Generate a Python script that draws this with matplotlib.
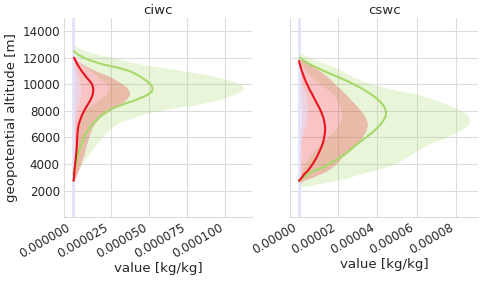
import numpy as np
import matplotlib
matplotlib.use("Agg")
import matplotlib.pyplot as plt

nan = np.nan

# altitude levels [m] for the cloud profiles, 2250 .. 13250 every 250 m
altitude = np.arange(2250, 13251, 250)
# the near-zero reference profile spans the whole column
altitude_full = [0, 15000]

# ---------------- ciwc  (values in 1e-6 kg/kg) ----------------
ciwc_red_med = [nan,
                nan, 0.6, 0.9, 1.05,
                1.2, 1.4, 1.6, 1.85,
                2.1, 2.3, 2.5, 2.7,
                2.8, 2.9, 3.0, 3.15,
                3.3, 3.6, 4.0, 4.7,
                5.5, 6.4, 7.5, 8.7,
                10.0, 11.3, 12.4, 13.1,
                13.5, 13.4, 12.7, 11.2,
                9.3, 7.6, 6.0, 4.5,
                3.2, 2.0, 0.9, nan,
                nan, nan, nan, nan]
ciwc_red_lo = [nan,
               0.0, 0.1, 0.2, 0.2,
               0.2, 0.2, 0.3, 0.3,
               0.3, 0.3, 0.3, 0.3,
               0.3, 0.3, 0.3, 0.3,
               0.4, 0.4, 0.4, 0.4,
               0.5, 0.5, 0.6, 0.6,
               0.6, 0.7, 0.7, 0.7,
               0.7, 0.7, 0.6, 0.6,
               0.5, 0.4, 0.3, 0.3,
               0.2, 0.1, 0.1, 0.0,
               nan, nan, nan, nan]
ciwc_red_hi = [nan,
               0.1, 1.3, 2.2, 2.9,
               3.7, 4.5, 5.3, 6.0,
               6.7, 7.4, 8.0, 8.6,
               9.2, 9.8, 10.5, 11.2,
               12.0, 12.8, 14.0, 15.8,
               18.0, 20.5, 24.0, 27.5,
               31.0, 34.0, 36.0, 37.3,
               37.0, 35.5, 33.0, 29.5,
               26.0, 21.0, 15.5, 11.0,
               7.0, 4.0, 2.0, 0.2,
               nan, nan, nan, nan]
ciwc_green_med = [nan,
                  nan, nan, nan, 0.5,
                  1.0, 1.6, 2.2, 2.7,
                  3.2, 3.7, 4.3, 5.0,
                  5.8, 6.6, 7.5, 8.5,
                  9.8, 11.3, 13.0, 14.8,
                  17.0, 19.8, 23.0, 27.5,
                  33.0, 39.5, 45.0, 49.5,
                  52.0, 52.3, 51.0, 48.5,
                  45.5, 42.0, 37.5, 30.0,
                  20.0, 13.0, 7.5, 3.5,
                  1.0, nan, nan, nan]
ciwc_green_lo = [nan,
                 nan, 0.0, 0.2, 0.35,
                 0.5, 0.65, 0.8, 1.0,
                 1.2, 1.4, 1.6, 1.8,
                 2.0, 2.2, 2.4, 2.7,
                 3.0, 3.4, 3.8, 4.3,
                 5.0, 6.2, 8.0, 10.0,
                 13.0, 16.0, 19.0, 21.8,
                 23.3, 23.5, 22.5, 20.0,
                 17.0, 14.5, 12.0, 9.0,
                 6.0, 4.5, 2.5, 1.0,
                 0.4, 0.1, 0.0, nan]
ciwc_green_hi = [nan,
                 nan, 0.3, 1.5, 2.6,
                 3.8, 5.0, 6.0, 7.5,
                 9.0, 10.8, 12.3, 14.0,
                 15.8, 17.5, 19.2, 21.0,
                 23.0, 25.5, 28.5, 33.0,
                 40.0, 46.0, 55.0, 68.0,
                 82.0, 92.0, 100.0, 106.0,
                 110.0, 112.0, 110.0, 105.0,
                 97.0, 87.0, 74.0, 60.0,
                 46.0, 36.0, 27.0, 17.0,
                 9.0, 4.0, 1.0, nan]
ciwc_blue_med = [0.0, 0.0]
ciwc_blue_hi = [0,
                0, 0, 0, 0,
                0, 0, 0, 0,
                0, 0, 0, 0,
                0, 0, 0.1, 0.3,
                0.5, 0.7, 0.8, 1.2,
                1.6, 2.1, 2.6, 3.1,
                3.6, 4.0, 4.5, 4.9,
                5.2, 5.2, 5.0, 4.5,
                4.0, 3.3, 2.5, 1.7,
                1.0, 0.4, 0, 0,
                0, 0, 0, 0]

# ---------------- cswc  (values in 1e-6 kg/kg) ----------------
cswc_red_med = [nan,
                nan, 0.3, 1.8, 3.0,
                4.8, 6.0, 7.2, 8.2,
                9.2, 10.0, 10.8, 11.5,
                12.2, 12.7, 13.0, 13.3,
                13.5, 13.5, 13.3, 13.0,
                12.6, 12.0, 11.3, 10.5,
                9.6, 8.7, 7.8, 7.0,
                6.0, 5.2, 4.4, 3.6,
                2.9, 2.3, 1.7, 1.2,
                0.7, 0.3, nan, nan,
                nan, nan, nan, nan]
cswc_red_lo = [nan,
               0.0, 0.1, 0.2, 0.2,
               0.3, 0.3, 0.3, 0.4,
               0.4, 0.5, 0.5, 0.6,
               0.7, 0.8, 0.9, 1.0,
               1.1, 1.2, 1.3, 1.4,
               1.5, 1.5, 1.5, 1.4,
               1.3, 1.2, 1.0, 0.9,
               0.8, 0.7, 0.6, 0.5,
               0.4, 0.3, 0.3, 0.2,
               0.1, 0.1, 0.0, nan,
               nan, nan, nan, nan]
cswc_red_hi = [nan,
               0.5, 2.5, 7.0, 11.0,
               14.5, 17.0, 19.0, 20.5,
               22.0, 24.0, 26.0, 28.0,
               29.7, 31.0, 32.2, 33.3,
               34.2, 34.8, 35.0, 34.7,
               34.0, 33.0, 31.8, 30.3,
               28.8, 27.2, 25.6, 24.0,
               22.3, 20.5, 18.7, 17.0,
               15.3, 13.3, 11.0, 8.5,
               6.0, 3.5, 1.2, nan,
               nan, nan, nan, nan]
cswc_green_med = [nan,
                  nan, 0.5, 2.5, 5.0,
                  8.0, 12.5, 15.5, 18.5,
                  21.0, 23.5, 25.8, 27.8,
                  29.8, 32.0, 34.2, 36.5,
                  38.5, 40.3, 41.8, 43.0,
                  44.0, 44.5, 44.4, 43.8,
                  42.7, 41.2, 39.3, 37.0,
                  34.3, 31.5, 28.3, 24.8,
                  21.0, 17.0, 13.0, 9.5,
                  6.0, 3.0, 0.8, nan,
                  nan, nan, nan, nan]
cswc_green_lo = [0.0,
                 0.2, 0.5, 0.8, 1.2,
                 1.7, 2.3, 3.2, 4.2,
                 5.2, 6.5, 8.0, 9.6,
                 11.3, 13.0, 14.8, 16.5,
                 18.0, 19.5, 20.5, 21.3,
                 21.8, 22.0, 21.8, 21.3,
                 20.6, 19.8, 18.8, 17.5,
                 15.8, 13.5, 11.0, 9.0,
                 7.0, 5.2, 3.8, 2.6,
                 1.6, 0.8, 0.3, 0.1,
                 0.0, nan, nan, nan]
cswc_green_hi = [0.5,
                 10.0, 19.0, 26.0, 31.0,
                 38.0, 44.0, 49.0, 52.0,
                 55.0, 57.5, 60.0, 63.0,
                 66.5, 70.5, 74.5, 78.5,
                 82.0, 84.8, 86.5, 87.0,
                 86.8, 85.5, 83.0, 79.5,
                 75.5, 71.0, 66.0, 61.0,
                 52.0, 44.0, 38.0, 33.0,
                 29.0, 25.0, 22.5, 19.0,
                 15.0, 10.5, 6.0, 2.5,
                 0.5, nan, nan, nan]
cswc_blue_med = [0.0, 0.0]
cswc_blue_hi = [0,
                0, 0, 0, 0,
                0, 0, 0, 0,
                0, 0, 0.3, 0.6,
                0.9, 1.3, 1.7, 2.2,
                2.7, 3.2, 3.6, 3.9,
                4.2, 4.4, 4.5, 4.5,
                4.4, 4.3, 4.0, 3.6,
                3.1, 2.5, 1.8, 1.2,
                0.6, 0.2, 0, 0,
                0, 0, 0, 0,
                0, 0, 0, 0]

titles = ["ciwc", "cswc"]

red = "#e8141c"
green = "#a6d96a"
lavender = "#e2e2fa"

plt.rcParams["font.family"] = "DejaVu Sans"
plt.rcParams["text.color"] = "#262626"
plt.rcParams["axes.labelcolor"] = "#262626"
plt.rcParams["xtick.color"] = "#262626"
plt.rcParams["ytick.color"] = "#262626"

fig, axes = plt.subplots(1, 2, sharey=True, figsize=(4.93, 2.83), dpi=100)
fig.subplots_adjust(left=0.13, right=0.97, bottom=0.233, top=0.936, wspace=0.2)

panels = [
    (ciwc_blue_med, ciwc_blue_hi, ciwc_red_med, ciwc_red_lo, ciwc_red_hi,
     ciwc_green_med, ciwc_green_lo, ciwc_green_hi),
    (cswc_blue_med, cswc_blue_hi, cswc_red_med, cswc_red_lo, cswc_red_hi,
     cswc_green_med, cswc_green_lo, cswc_green_hi),
]

for ax, title, data in zip(axes, titles, panels):
    b_med = np.array(data[0], dtype=float) * 1e-6
    b_hi, r_med, r_lo, r_hi, g_med, g_lo, g_hi = [np.array(d, dtype=float) * 1e-6 for d in data[1:]]

    ax.fill_betweenx(altitude, g_lo, g_hi, color=green, alpha=0.25, lw=0)
    ax.fill_betweenx(altitude, r_lo, r_hi, color=red, alpha=0.25, lw=0)
    ax.fill_betweenx(altitude, np.zeros(len(altitude)), b_hi, color=lavender, alpha=0.55, lw=0)
    ax.plot(b_med, altitude_full, color=lavender, lw=2)
    ax.plot(g_med, altitude, color=green, lw=1.5)
    ax.plot(r_med, altitude, color=red, lw=1.5)

    ax.set_title(title, fontsize=9.6, pad=3)
    ax.set_xlabel("value [kg/kg]", fontsize=9.6, labelpad=1)
    ax.grid(True, color="#dcdcdc", lw=0.8)
    ax.set_axisbelow(True)
    for side in ["top", "right"]:
        ax.spines[side].set_visible(False)
    for side in ["left", "bottom"]:
        ax.spines[side].set_color("#dcdcdc")
    ax.tick_params(length=0, labelsize=8.6, pad=3)

axes[0].set_ylim(0, 15000)
axes[0].set_yticks([2000, 4000, 6000, 8000, 10000, 12000, 14000])
axes[0].set_ylabel("geopotential altitude [m]", fontsize=9.6, labelpad=3)
axes[0].set_xticks([0, 0.000025, 0.00005, 0.000075, 0.0001])
axes[0].set_xticklabels(["0.000000", "0.000025", "0.000050", "0.000075", "0.000100"], rotation=30, ha="right")
axes[1].set_xticks([0, 0.00002, 0.00004, 0.00006, 0.00008])
axes[1].set_xticklabels(["0.00000", "0.00002", "0.00004", "0.00006", "0.00008"], rotation=30, ha="right")

fig.savefig("out.png", dpi=100)
